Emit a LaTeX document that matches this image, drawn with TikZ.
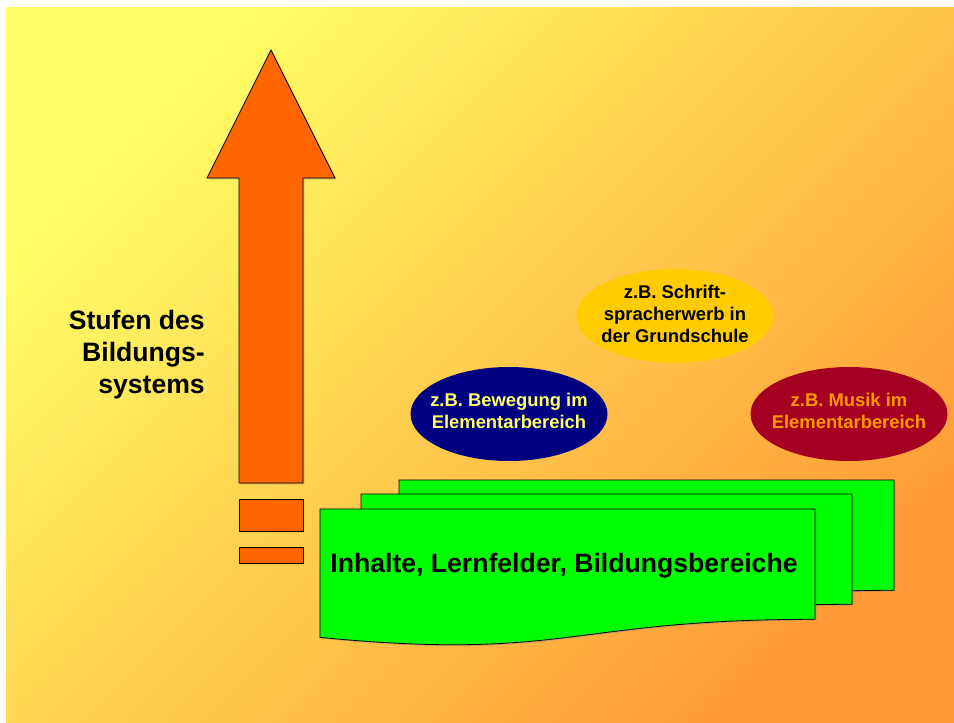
\documentclass[tikz,border=0pt]{standalone}
\usepackage{fontspec}
\setmainfont{Liberation Sans}
\usetikzlibrary{shapes.geometric,shadows}
\definecolor{paleyellow}{HTML}{FFFF66}
\definecolor{midamber}{HTML}{FFD54B}
\definecolor{deeporange}{HTML}{FF9B37}
\definecolor{arroworange}{HTML}{FF6600}
\definecolor{docgreen}{HTML}{00FF00}
\definecolor{navy}{HTML}{000080}
\definecolor{gold}{HTML}{FFCC00}
\definecolor{wine}{HTML}{A50021}
\definecolor{tangerine}{HTML}{FF9900}
\tikzset{
  softshadow/.style={drop shadow={shadow xshift=1.3pt,shadow yshift=-1.3pt,opacity=0.45}},
  stage/.style={draw=black,fill=arroworange,line width=0.8pt,softshadow},
  doc/.style={draw=black,fill=docgreen,line width=0.8pt,softshadow},
  bubble/.style={ellipse,minimum width=197pt,minimum height=94pt,inner sep=0pt},
  bubbletext/.style={align=center,inner sep=0pt,font=\bfseries\fontsize{18.4}{21.6}\selectfont},
  bigtext/.style={inner sep=0pt,font=\bfseries\fontsize{26.6}{32}\selectfont},
}

\begin{document}
\begin{tikzpicture}[x=1pt,y=-1pt]
  \useasboundingbox (0,0) rectangle (954,723);
  \shade[top color=paleyellow,middle color=midamber,bottom color=deeporange,shading angle=45]
    (6,7) rectangle (954,723);

  % Upward arrow and the broken tail below it
  \draw[stage] (271,50) -- (335,178) -- (303,178) -- (303,483) -- (239,483)
    -- (239,178) -- (207,178) -- cycle;
  \draw[stage] (239,499) rectangle (303,531);
  \draw[stage] (239,547) rectangle (303,563);

  \node[bigtext,align=right,anchor=east] (stufen) at (205,355)
    {Stufen des\\Bildungs-\\systems};

  % Stacked documents, back to front
  \foreach \x/\t/\w in {399/480/495,361/494/491,320/509/495} {
    \draw[doc] (\x,\t) -- (\x+\w,\t) -- (\x+\w,\t+110.3)
      .. controls (\x+\w/2,\t+110.3) and (\x+\w/2,\t+152.3) .. (\x,\t+128.4) -- cycle;
  }
  \node[bigtext] (inhalte) at (564,566) {Inhalte, Lernfelder, Bildungsbereiche};

  % Examples
  \node[bubble,fill=navy] (bewegung) at (509,414) {};
  \node[bubbletext,text=paleyellow] (bewegung text) at (509,411)
    {z.B. Bewegung im\\Elementarbereich};

  \node[bubble,fill=gold] (schrift) at (675,316) {};
  \node[bubbletext,text=black] (schrift text) at (675,314)
    {z.B. Schrift-\\spracherwerb in\\der Grundschule};

  \node[bubble,fill=wine] (musik) at (849,414) {};
  \node[bubbletext,text=tangerine] (musik text) at (849,411)
    {z.B. Musik im\\Elementarbereich};
\end{tikzpicture}
\end{document}
